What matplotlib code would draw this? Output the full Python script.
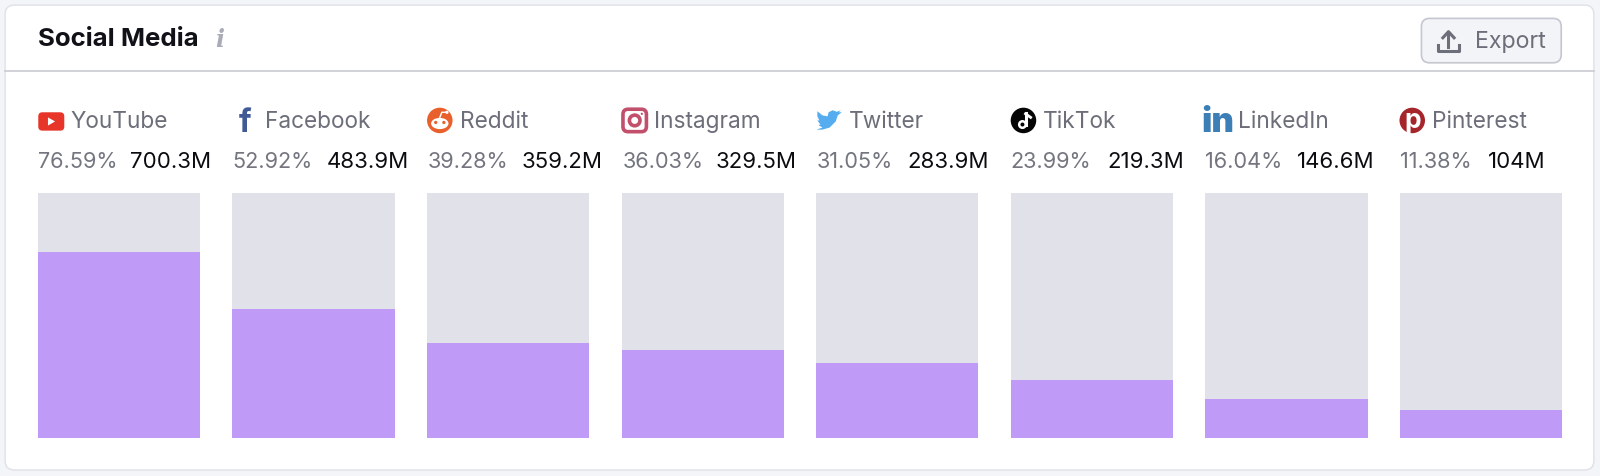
import numpy as np
import matplotlib
matplotlib.use('Agg')
import matplotlib.pyplot as plt
from matplotlib.patches import FancyBboxPatch, Circle, Ellipse, Polygon

plt.rcParams['font.family'] = ['Inter', 'DejaVu Sans']

networks = ['YouTube', 'Facebook', 'Reddit', 'Instagram', 'Twitter', 'TikTok', 'LinkedIn', 'Pinterest']
shares = [76.59, 52.92, 39.28, 36.03, 31.05, 23.99, 16.04, 11.38]
share_labels = ['76.59%', '52.92%', '39.28%', '36.03%', '31.05%', '23.99%', '16.04%', '11.38%']
users = ['700.3M', '483.9M', '359.2M', '329.5M', '283.9M', '219.3M', '146.6M', '104M']
track_top = 101

W, H = 1600, 477
PW, PH = 1568, 467.4  # layout units used below
fig = plt.figure(figsize=(W / 100, H / 100), dpi=100, facecolor='#f4f5f9')

# overlay for the card, text and icons
bg = fig.add_axes([0, 0, 1, 1])
bg.set_xlim(0, PW)
bg.set_ylim(PH - 1, -1)
bg.axis('off')

bg.add_patch(FancyBboxPatch((5, 5), 1557, 455.5, boxstyle='round,pad=0,rounding_size=9',
                            fc='white', ec='#dfe1e8', lw=1))
bg.plot([5, 1562], [69.3, 69.3], color='#c9cbd2', lw=1.2)

bg.text(37, 38, 'Social Media', fontsize=18.6, fontweight='bold', color='#101218', va='center')
bg.text(215, 38, 'i', fontsize=17, family='DejaVu Serif', style='italic', fontweight='bold',
        color='#a9abb6', ha='center', va='center')

# export button
bg.add_patch(FancyBboxPatch((1393, 18), 137, 43.5, boxstyle='round,pad=0,rounding_size=8',
                            fc='#f3f4f8', ec='#c4c7cf', lw=1.2))
bg.plot([1409, 1409, 1430, 1430], [44, 50, 50, 44], color='#6c6e79', lw=2.2)
bg.plot([1419.5, 1419.5], [46, 32], color='#6c6e79', lw=2.2)
bg.plot([1414, 1419.5, 1425], [37, 31, 37], color='#6c6e79', lw=2.2)
bg.text(1445.5, 40.5, 'Export', fontsize=16.7, color='#6c6e79', va='center')

lefts = [37, 228, 419, 610, 800, 990, 1181, 1372]
name_x = [69.5, 259.5, 450.5, 640.5, 832, 1022, 1213, 1403]
user_right = [207, 401, 591, 781, 969, 1160, 1347, 1515]

for i, name in enumerate(networks):
    bg.text(name_x[i], 119, name, fontsize=16.3, color='#6c6e79', va='center')
    bg.text(lefts[i], 158, share_labels[i], fontsize=15.6, color='#73757f', va='center')
    bg.text(user_right[i], 158, users[i], fontsize=16, color='#0b0c10', va='center', ha='right')

# youtube
bg.add_patch(FancyBboxPatch((37.5, 110), 25.5, 18, boxstyle='round,pad=0,rounding_size=4', fc='#e7352a', ec='none'))
bg.add_patch(Polygon([[47, 115], [47, 123], [54, 119]], fc='white', ec='none'))
# facebook
bg.text(240, 120, 'f', fontsize=23, fontweight='bold', color='#3f5a94', ha='center', va='center')
# reddit
bg.add_patch(Circle((431, 118), 12.5, fc='#e8602c', ec='none'))
bg.add_patch(Ellipse((431, 121), 17, 11, fc='white', ec='none'))
bg.add_patch(Circle((427, 120), 1.6, fc='#e8602c', ec='none'))
bg.add_patch(Circle((435, 120), 1.6, fc='#e8602c', ec='none'))
bg.add_patch(Circle((438, 110), 1.6, fc='white', ec='none'))
bg.plot([431, 433, 438], [115, 110, 110], color='white', lw=1)
# instagram
bg.add_patch(FancyBboxPatch((610.5, 107), 23, 22, boxstyle='round,pad=0,rounding_size=5',
                            fc='white', ec='#c2506c', lw=2.6))
bg.add_patch(Circle((622, 118), 5.2, fc='white', ec='#c2506c', lw=2.6))
bg.add_patch(Circle((629, 111.5), 1.1, fc='#c2506c', ec='none'))
# twitter
bird = [[800, 127], [806, 127], [813, 125], [819, 119], [821, 113], [825, 110], [822, 110], [824, 108],
        [820, 109.5], [816, 108], [812, 110], [811, 114], [806, 113], [801, 109], [801, 114], [803, 118],
        [801, 118], [804, 122], [802, 122.5], [806, 125]]
bg.add_patch(Polygon(bird, fc='#55acee', ec='none'))
# tiktok
bg.add_patch(Circle((1003, 118), 12.5, fc='#050505', ec='none'))
bg.plot([1005, 1005], [111, 122], color='white', lw=2.2)
bg.add_patch(Circle((1002, 122), 3.2, fc='none', ec='white', lw=1.8))
bg.plot([1005, 1010], [111.5, 115], color='white', lw=2)
# linkedin
bg.text(1193.5, 119.5, 'in', fontsize=25, fontweight='black', color='#3b7fb6', ha='center', va='center')
# pinterest
bg.add_patch(Circle((1384, 118), 12.5, fc='#a6252b', ec='none'))
bg.text(1384, 118, 'p', fontsize=19, fontweight='bold', color='white', ha='center', va='center')

# bars, axes edges lined up with the first and last bar
ax = fig.add_axes([37 / PW, 1 - 430 / PH, (1531 - 37) / PW, 240 / PH])
ax.set_facecolor('none')
x = np.arange(len(networks))
bar_w = 159 / 190.7
ax.bar(x, [track_top] * len(x), width=bar_w, color='#e0e1e9')
ax.bar(x, shares, width=bar_w, color='#bf9af7')
ax.set_xlim(-bar_w / 2, len(x) - 1 + bar_w / 2)
ax.set_ylim(0, track_top)
ax.axis('off')

fig.savefig('out.png', dpi=100, facecolor=fig.get_facecolor())
